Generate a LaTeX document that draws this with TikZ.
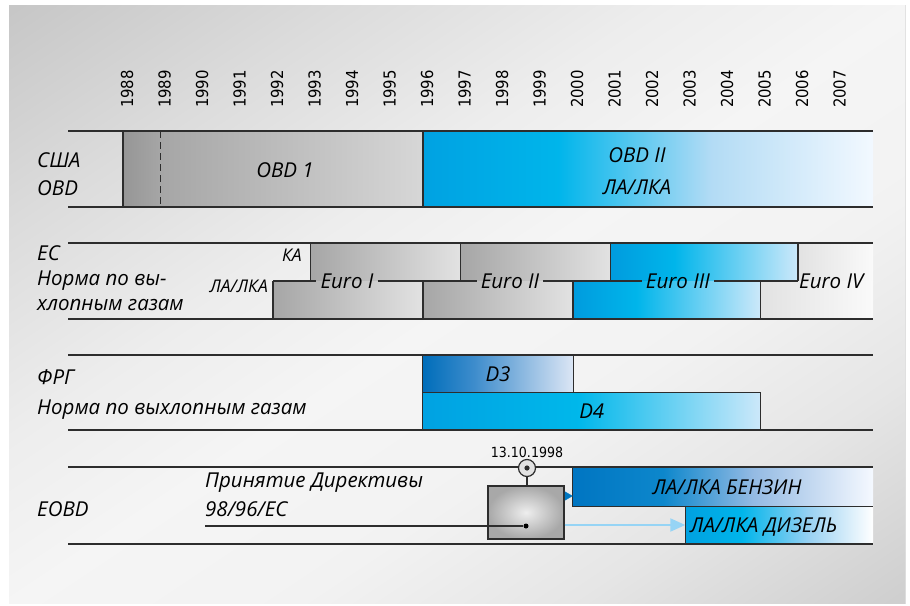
\documentclass[tikz,border=0pt]{standalone}
\usepackage{fontspec}
\setmainfont{Open Sans}
\newfontfamily\yearfont{DejaVu Sans Condensed}
\usetikzlibrary{arrows.meta,positioning}
\definecolor{eLine}{RGB}{45,45,45}
\definecolor{eDeep}{RGB}{0,118,192}
\definecolor{eArrow}{RGB}{150,212,245}
\definecolor{gDeep}{RGB}{150,150,150}
\definecolor{gMid}{RGB}{166,166,166}
\definecolor{gSoft}{RGB}{226,226,226}
\definecolor{gWhite}{RGB}{250,250,250}
\definecolor{gGlow}{RGB}{238,238,238}
\definecolor{gRim}{RGB}{168,168,168}
% shadings: the bar itself runs from 25bp to 75bp
\pgfdeclarehorizontalshading{panel}{100bp}{rgb(0bp)=(0.78,0.78,0.78); rgb(28bp)=(0.78,0.78,0.78); rgb(36bp)=(0.86,0.86,0.86); rgb(44bp)=(0.93,0.93,0.93); rgb(50bp)=(0.96,0.96,0.96); rgb(57bp)=(0.95,0.95,0.95); rgb(64bp)=(0.90,0.90,0.90); rgb(72bp)=(0.81,0.81,0.81); rgb(100bp)=(0.81,0.81,0.81)}
\pgfdeclarehorizontalshading{obdtwo}{100bp}{rgb(0bp)=(0,0.635,0.886); rgb(25bp)=(0,0.635,0.886); rgb(40bp)=(0,0.71,0.92); rgb(57bp)=(0.70,0.86,0.96); rgb(75bp)=(0.95,0.975,1); rgb(100bp)=(0.95,0.975,1)}
\pgfdeclarehorizontalshading{eurothree}{100bp}{rgb(0bp)=(0,0.61,0.87); rgb(25bp)=(0,0.61,0.87); rgb(42bp)=(0,0.71,0.92); rgb(75bp)=(0.80,0.91,0.98); rgb(100bp)=(0.80,0.91,0.98)}
\pgfdeclarehorizontalshading{dthree}{100bp}{rgb(0bp)=(0,0.43,0.73); rgb(25bp)=(0,0.43,0.73); rgb(42bp)=(0.24,0.55,0.80); rgb(75bp)=(0.86,0.90,0.96); rgb(100bp)=(0.86,0.90,0.96)}
\pgfdeclarehorizontalshading{dfour}{100bp}{rgb(0bp)=(0,0.635,0.886); rgb(25bp)=(0,0.635,0.886); rgb(48bp)=(0,0.72,0.92); rgb(75bp)=(0.80,0.91,0.98); rgb(100bp)=(0.80,0.91,0.98)}
\pgfdeclarehorizontalshading{benzin}{100bp}{rgb(0bp)=(0,0.46,0.76); rgb(25bp)=(0,0.46,0.76); rgb(40bp)=(0.05,0.53,0.80); rgb(55bp)=(0.58,0.73,0.89); rgb(75bp)=(0.96,0.975,1); rgb(100bp)=(0.96,0.975,1)}
\pgfdeclarehorizontalshading{diesel}{100bp}{rgb(0bp)=(0,0.63,0.88); rgb(25bp)=(0,0.63,0.88); rgb(40bp)=(0,0.71,0.92); rgb(58bp)=(0.60,0.82,0.95); rgb(75bp)=(1,1,1); rgb(100bp)=(1,1,1)}

\begin{document}
\begin{tikzpicture}[x=1pt,y=-1pt,
	rowline/.style={draw=eLine, line width=1.3pt},
	edgeline/.style={draw=eLine, line width=1.1pt},
	rowlabel/.style={anchor=west, inner sep=0pt, font=\fontsize{20.5}{24}\selectfont\itshape},
	bartext/.style={inner sep=0pt, font=\fontsize{20.5}{24}\selectfont\itshape},
	smalltext/.style={anchor=east, inner sep=0pt, font=\fontsize{17.5}{20}\selectfont\itshape},
	eurotext/.style={inner xsep=4pt, inner ysep=0pt, font=\fontsize{20.5}{24}\selectfont\itshape},
	yearlabel/.style={rotate=90, inner sep=0pt, font=\yearfont\fontsize{16.5}{19}\selectfont},
	graybar/.style={left color=gMid, right color=gSoft},
	barnode/.style={shade, inner sep=0pt, font=\fontsize{20.5}{24}\selectfont\itshape}
	]
	\useasboundingbox (0,0) rectangle (910,605);
	% background panel, light along the rising diagonal
	\begin{scope}
		\clip (9,5) rectangle (905,603);
		\begin{scope}[transform canvas={rotate around={-56.3:(457,304)}}]
			\fill[shading=panel] (-103,-256) rectangle (1017,864);
		\end{scope}
	\end{scope}

	% years
	\foreach \yr [count=\i from 0] in {1988,...,2007}
	\node[yearlabel] (y\yr) at (127+37.5*\i,89) {\yr};

	% USA / OBD
	\fill[left color=gDeep, right color=gDeep!85!white] (123,131) rectangle (160.5,207);
	\fill[left color=gMid, right color=gSoft!95!black] (160.5,131) rectangle (423,207);
	\fill[shading=obdtwo] (423,131) rectangle (873,207);
	\draw[rowline] (68,131) -- (873,131) (68,207) -- (873,207);
	\draw[edgeline] (123,131) -- (123,207) (423,131) -- (423,207);
	\draw[edgeline, dash pattern=on 7pt off 4pt] (160.5,131) -- (160.5,207);
	\node[rowlabel] (usa) at (37,160) {США};
	\node[rowlabel] (obd) at (37,188) {OBD};
	\node[bartext] (obdone) at (285,170) {OBD 1};
	\node[bartext] (obdtwo) at (637,155) {OBD II};
	\node[bartext] (obdcars) at (637,187) {ЛА/ЛКА};

	% EC
	\fill[graybar] (310.5,243) rectangle (460.5,281);
	\fill[graybar] (460.5,243) rectangle (610.5,281);
	\fill[shading=eurothree] (610.5,243) rectangle (798,281);
	\fill[left color=gSoft, right color=gWhite] (798,243) rectangle (873,281);
	\fill[graybar] (273,281) rectangle (423,319);
	\fill[graybar] (423,281) rectangle (573,319);
	\fill[shading=eurothree] (573,281) rectangle (760.5,319);
	\fill[left color=gSoft, right color=gWhite] (760.5,281) rectangle (873,319);
	\draw[rowline] (68,243) -- (873,243) (68,319) -- (873,319);
	\draw[edgeline] (310.5,243) -- (310.5,281) (460.5,243) -- (460.5,281)
		(610.5,243) -- (610.5,281) (798,243) -- (798,281);
	\draw[edgeline] (273,281) -- (273,319) (423,281) -- (423,319)
		(573,281) -- (573,319) (760.5,281) -- (760.5,319);
	\node[rowlabel] (ec) at (37,253) {ЕС};
	\node[rowlabel] (ecnormA) at (37,281) {Норма по вы-};
	\node[rowlabel] (ecnormB) at (37,305) {хлопным газам};
	\node[smalltext] (ka) at (302,255) {КА};
	\node[smalltext] (lalka) at (268,286) {ЛА/ЛКА};
	\node[eurotext] (euroI) at (347,281) {Euro I};
	\node[eurotext] (euroII) at (510,281) {Euro II};
	\node[eurotext] (euroIII) at (678,281) {Euro III};
	\node[eurotext, anchor=west, inner xsep=1pt] (euroIV) at (798,281) {Euro IV};
	\coordinate (ecmid) at (273,281);
	\draw[edgeline] (ecmid) -- (euroI.west) (euroI.east) -- (euroII.west)
		(euroII.east) -- (euroIII.west) (euroIII.east) -- (euroIV.west);

	% FRG
	\node[barnode, shading=dthree, minimum width=150, minimum height=38] (dthree) at (498,374) {D3};
	\node[barnode, shading=dfour, minimum width=337.5, minimum height=37] (dfour) at (591.75,411.5) {D4};
	\draw[rowline] (68,355) -- (873,355) (68,430) -- (873,430);
	\draw[edgeline] (dthree.north west) -- (dfour.south west);
	\draw[edgeline] (dthree.north east) -- (dthree.south east);
	\draw[edgeline] (dfour.north west) -- (dfour.north east) -- (dfour.south east);
	\node[rowlabel] (frg) at (37,377) {ФРГ};
	\node[rowlabel] (frgnorm) at (37,410) {Норма по выхлопным газам};

	% EOBD
	\node[shade, shading=benzin, minimum width=300, minimum height=39, inner sep=0pt] (benzin) at (723,486.5) {};
	\node[shade, shading=diesel, minimum width=187.5, minimum height=38, inner sep=0pt] (diesel) at (779.25,525) {};
	\draw[rowline] (68,467) -- (873,467) (68,544) -- (873,544);
	\draw[edgeline] (benzin.north west) -- (benzin.south west) -- (benzin.south east);
	\draw[edgeline] (diesel.north west) -- (diesel.south west);
	\node[bartext] (benztext) at (727,487) {ЛА/ЛКА БЕНЗИН};
	\node[bartext, anchor=west] (dieseltext) at (690,527) {ЛА/ЛКА ДИЗЕЛЬ};
	\node[rowlabel] (eobd) at (37,509) {EOBD};
	\node[rowlabel] (dirtitle) at (205,483) {Принятие Директивы};
	\node[rowlabel] (dirnum) at (205,509) {98/96/ЕС};

	\node[draw=eLine, line width=1.2pt, inner color=gGlow, outer color=gRim,
		minimum width=76, minimum height=53] (eobdbox) at (526,512.5) {};
	\node[circle, draw=eLine, fill=gSoft, line width=1.2pt, minimum size=17, inner sep=0pt] (datecirc) at (527,468) {};
	\fill[eLine] (datecirc.center) circle (2.6);
	\node[above=1pt of datecirc, inner sep=0pt, font=\yearfont\fontsize{14}{16}\selectfont] (datetext) {13.10.1998};
	\draw[edgeline] (datecirc.south) -- (datecirc |- eobdbox.north);
	\node[circle, fill=black, inner sep=0pt, minimum size=5] (dirdot) at (526,526) {};
	\coordinate (dirstart) at (205,526);
	\draw[edgeline] (dirstart) -- (dirdot);
	\coordinate (bzarrow) at (0,496);
	\draw[-{Triangle[length=8pt,width=9pt]}, eDeep, line width=0.5pt] (eobdbox.east |- bzarrow) -- (benzin.west |- bzarrow);
	\draw[-{Triangle[length=15pt,width=13pt]}, eArrow, line width=2pt] (eobdbox.east |- diesel.west) -- (diesel.west);
\end{tikzpicture}
\end{document}
